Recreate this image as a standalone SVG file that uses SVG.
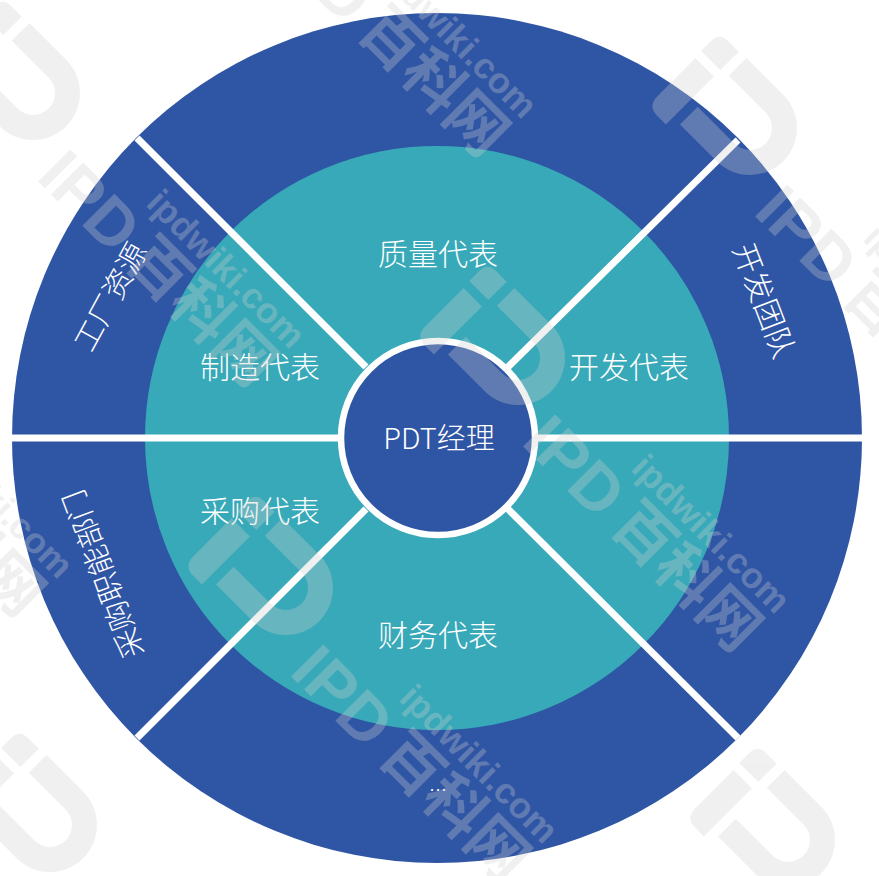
<svg xmlns="http://www.w3.org/2000/svg" xmlns:xlink="http://www.w3.org/1999/xlink" width="879" height="876" viewBox="0 0 879 876">
<style>
.o{fill:#2f55a5}.t{fill:#38a9b8}
text{fill:#fff;font-family:"Noto Sans CJK SC","Noto Sans",sans-serif;font-weight:300;text-anchor:middle}
.m{font-size:30px}.r{font-size:30px}
.w{stroke:#fff;stroke-width:7;fill:none}
.wm{opacity:.3}
.wm path,.wm rect{fill:#d1d1d1}
.wm text{fill:#d1d1d1;text-anchor:start;font-weight:400}
</style>
<defs>
<g id="mark" class="wm">
<path d="M-52-47H0A47 47 0 0 1 0 47H-52V22H0A22 22 0 0 0 0-22H-52Z"/>
<path d="M-88-11H-62V57H-74Q-88 57-88 43Z"/>
<path d="M-62-46V-20H-89V-34Q-89-46-77-46Z"/>
<text x="62" y="59" font-size="66" style="font-family:'Liberation Sans',sans-serif;font-weight:700">IPD</text>
<text x="184" y="56" font-size="60" style="font-weight:700">百科网</text>
<text x="158" y="0" font-size="36" style="font-family:'Liberation Sans',sans-serif;font-weight:700">ipdwiki.com</text>
</g>
</defs>
<g id="outer-top"><path class="o" d="M136.500 137.500A425 425 0 0 1 737.500 137.500L437 438Z"/></g>
<g id="outer-right-top"><path class="o" d="M737.500 137.500A425 425 0 0 1 862 438H437Z"/><text class="r" transform="translate(763 301) rotate(69)" y="10">开发团队</text></g>
<g id="outer-right-bottom"><path class="o" d="M862 438A425 425 0 0 1 737.500 738.500L437 438Z"/></g>
<g id="outer-bottom"><path class="o" d="M737.500 738.500A425 425 0 0 1 136.500 738.500L437 438Z"/><text x="438" y="797" font-size="18">…</text></g>
<g id="outer-left-bottom"><path class="o" d="M136.500 738.500A425 425 0 0 1 12 438H437Z"/><text class="r" style="font-size:29.500px" transform="translate(104 574) rotate(-110.600)" y="10">采购职能部门</text></g>
<g id="outer-left-top"><path class="o" d="M12 438A425 425 0 0 1 136.500 137.500L437 438Z"/><text class="r" style="font-size:29.500px" transform="translate(111 297) rotate(-61.400)" y="10">工厂资源</text></g>
<g id="quality"><path class="t" d="M230.500 231.500A292 292 0 0 1 643.500 231.500L437 438Z"/><text class="m" x="438" y="265">质量代表</text></g>
<g id="development"><path class="t" d="M643.500 231.500A292 292 0 0 1 729 438H437Z"/><text class="m" x="629" y="378">开发代表</text></g>
<g id="unnamed"><path class="t" d="M729 438A292 292 0 0 1 643.500 644.500L437 438Z"/></g>
<g id="finance"><path class="t" d="M643.500 644.500A292 292 0 0 1 230.500 644.500L437 438Z"/><text class="m" x="438" y="646">财务代表</text></g>
<g id="purchasing"><path class="t" d="M230.500 644.500A292 292 0 0 1 145 438H437Z"/><text class="m" x="260" y="522">采购代表</text></g>
<g id="manufacturing"><path class="t" d="M145 438A292 292 0 0 1 230.500 231.500L437 438Z"/><text class="m" x="260" y="378">制造代表</text></g>
<g id="connectors">
<line class="w" x1="12" y1="438" x2="340" y2="438"/>
<line class="w" x1="535" y1="438" x2="862" y2="438"/>
<line class="w" x1="137" y1="138" x2="366" y2="367"/>
<line class="w" x1="738" y1="140" x2="508" y2="367"/>
<line class="w" x1="137" y1="738" x2="366" y2="509"/>
<line class="w" x1="738" y1="738" x2="508" y2="509"/>
</g>
<g id="center"><circle cx="438" cy="438" r="97" fill="#2f55a5" stroke="#fff" stroke-width="6.500"/><text x="439" y="449" font-size="29">PDT经理</text></g>
<g id="watermarks">
<use xlink:href="#mark" transform="translate(518 358) rotate(45)"/>
<use xlink:href="#mark" transform="translate(750 128) rotate(45)"/>
<use xlink:href="#mark" transform="translate(286 588) rotate(45)"/>
<use xlink:href="#mark" transform="translate(50 825) rotate(45)"/>
<use xlink:href="#mark" transform="translate(33 93) rotate(45)"/>
<use xlink:href="#mark" transform="translate(788 840) rotate(45)"/>
<use xlink:href="#mark" transform="translate(265 -137) rotate(45)"/>
<use xlink:href="#mark" transform="translate(-199 323) rotate(45)"/>
</g>
</svg>
